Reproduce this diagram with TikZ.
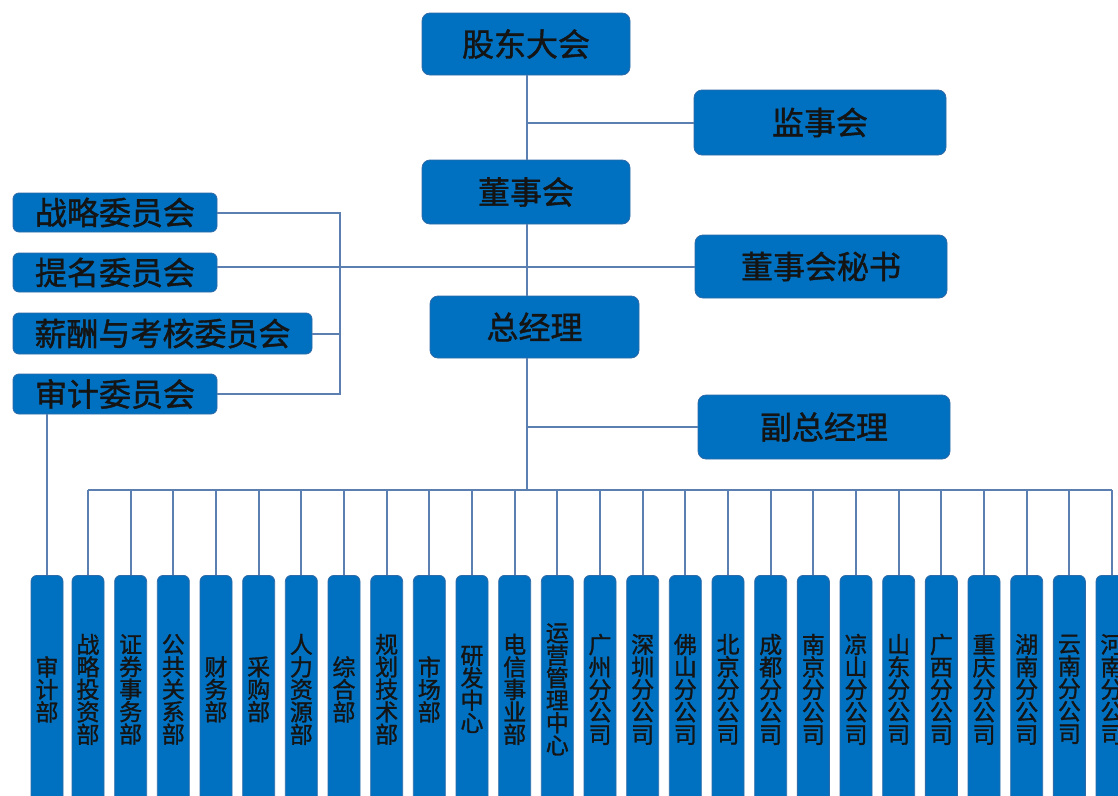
\documentclass[tikz,border=0pt]{standalone}
\usepackage{fontspec}
\newfontfamily\cjk{Noto Sans CJK SC}[FakeBold=1.2]
\definecolor{boxblue}{HTML}{0070C0}
\definecolor{bdr}{HTML}{2F6BA8}
\definecolor{linec}{HTML}{5B7FB0}
\definecolor{txt}{HTML}{141414}
\tikzset{
  bigbox/.style={draw=bdr, fill=boxblue, line width=0.8pt, rounded corners=8pt, inner sep=0pt, text=txt, font=\cjk\fontsize{32}{34}\selectfont},
  combox/.style={draw=bdr, fill=boxblue, line width=0.8pt, rounded corners=6pt, inner sep=0pt, text=txt, font=\cjk\fontsize{32}{34}\selectfont},
  colbox/.style={draw=bdr, fill=boxblue, line width=0.8pt, rounded corners=6pt, inner sep=0pt, text=txt, minimum width=32pt, minimum height=228pt, align=center, font=\cjk\fontsize{23}{22.5}\selectfont},
  conn/.style={draw=linec, line width=2pt}
}
\begin{document}
\begin{tikzpicture}[x=1pt,y=-1pt]
\clip (0,0) rectangle (1118,795);
\fill[white] (0,0) rectangle (1118,795);
% top chain
\node[bigbox, minimum width=208pt, minimum height=62pt] (gd) at (526,44) {股东大会};
\node[bigbox, minimum width=252pt, minimum height=65pt] (js) at (820,122.5) {监事会};
\node[bigbox, minimum width=208pt, minimum height=64pt] (dsh) at (526,192) {董事会};
\node[bigbox, minimum width=252pt, minimum height=63pt] (ms) at (821,266.5) {董事会秘书};
\node[bigbox, minimum width=209pt, minimum height=62pt] (zjl) at (534.5,327) {总经理};
\node[bigbox, minimum width=252pt, minimum height=64pt] (fz) at (824,427) {副总经理};
% committees
\node[combox, minimum width=204pt, minimum height=39pt] (zl) at (115,212.5) {战略委员会};
\node[combox, minimum width=204pt, minimum height=39pt] (tm) at (115,272.5) {提名委员会};
\node[combox, minimum width=299pt, minimum height=41pt] (xc) at (162.5,333.5) {薪酬与考核委员会};
\node[combox, minimum width=204pt, minimum height=40pt] (sj) at (115,394) {审计委员会};
% helper coordinates
\coordinate (tx) at (527,0);
\coordinate (bx) at (340,0);
\coordinate (busy) at (0,490);
% trunk connectors
\draw[conn] (gd.south -| tx) -- (dsh.north -| tx);
\draw[conn] (js.west -| tx) -- (js.west);
\draw[conn] (dsh.south -| tx) -- (zjl.north -| tx);
\draw[conn] (ms.west -| tm.east) -- (ms.west);
\draw[conn] (zl.east) -- (zl.east -| bx) -- (sj.east -| bx) -- (sj.east);
\draw[conn] (xc.east) -- (xc.east -| bx);
\draw[conn] (zjl.south -| tx) -- (busy -| tx);
\draw[conn] (fz.west -| tx) -- (fz.west);
% columns
\node[colbox, anchor=north] (c0) at (47,575) {审\\计\\部};
\draw[conn] (sj.south -| c0.north) -- (c0.north);
\foreach [count=\i] \t in {
  {战\\略\\投\\资\\部},{证\\券\\事\\务\\部},{公\\共\\关\\系\\部},{财\\务\\部},{采\\购\\部},
  {人\\力\\资\\源\\部},{综\\合\\部},{规\\划\\技\\术\\部},{市\\场\\部},{研\\发\\中\\心},
  {电\\信\\事\\业\\部},{运\\营\\管\\理\\中\\心},{广\\州\\分\\公\\司},{深\\圳\\分\\公\\司},{佛\\山\\分\\公\\司},
  {北\\京\\分\\公\\司},{成\\都\\分\\公\\司},{南\\京\\分\\公\\司},{凉\\山\\分\\公\\司},{山\\东\\分\\公\\司},
  {广\\西\\分\\公\\司},{重\\庆\\分\\公\\司},{湖\\南\\分\\公\\司},{云\\南\\分\\公\\司},{河\\南\\分\\公\\司}}{
  \node[colbox, anchor=north] (c\i) at ({88+42.667*(\i-1)},575) {\t};
  \draw[conn] (c\i.north |- busy) -- (c\i.north);
}
\draw[conn] (c1.north |- busy) -- (c25.north |- busy);
\end{tikzpicture}
\end{document}
